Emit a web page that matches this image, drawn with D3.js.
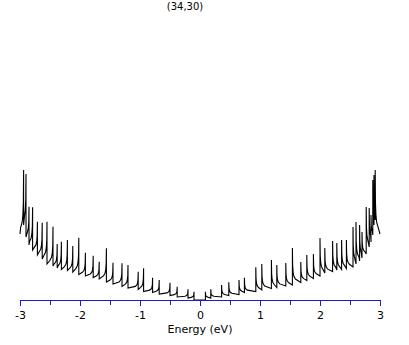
<!DOCTYPE html>
<html>
<head>
<meta charset="utf-8">
<script src="https://cdn.jsdelivr.net/npm/d3@7"></script>
<style>
  body { margin: 0; background: #fff; }
  svg { display: block; }
</style>
</head>
<body>
<svg></svg>
<script>
let title = '(34,30)'
let xLabel = 'Energy (eV)'
let majorTicks = [-3, -2, -1, 0, 1, 2, 3]
let minorTicks = [-2.5, -1.5, -0.5, 0.5, 1.5, 2.5]

// van Hove singularities, |E| in eV, E > 0 side
let vhsPos = [0.09, 0.18, 0.36, 0.48, 0.65, 0.74, 0.93, 1.03, 1.19, 1.28, 1.43, 1.54, 1.68, 1.78, 1.89, 2.00,
  2.08, 2.21, 2.28, 2.36, 2.44, 2.55, 2.60, 2.66, 2.70, 2.77, 2.82, 2.85, 2.88, 2.90, 2.92]
let peakPos = [0.83, 1.07, 1.5, 1.77, 2.0, 2.23, 3.27, 3.6, 4.0, 3.5, 3.7, 5.2, 3.8, 4.5, 4.6, 6.2,
  5.2, 5.9, 5.7, 6.0, 6.0, 7.3, 7.8, 7.5, 6.8, 9.3, 9.2, 8.5, 12.0, 12.5, 13.0]
// DOS just before the next singularity (last = value at 3 eV)
let basePos = [0.2, 0.3, 0.45, 0.55, 0.75, 0.85, 1.0, 1.15, 1.25, 1.4, 1.5, 1.75, 1.95, 2.15, 2.4, 2.7,
  2.85, 3.0, 3.05, 3.15, 3.3, 3.6, 3.9, 4.2, 4.6, 5.3, 5.8, 6.5, 7.5, 8.0, 6.6]

// E < 0 side
let vhsNeg = [0.10, 0.20, 0.38, 0.50, 0.68, 0.79, 0.94, 1.03, 1.20, 1.30, 1.45, 1.56, 1.68, 1.78, 1.91, 2.02,
  2.12, 2.21, 2.31, 2.38, 2.45, 2.55, 2.63, 2.71, 2.79, 2.85, 2.90, 2.94]
let peakNeg = [0.83, 1.07, 1.33, 1.73, 2.0, 2.23, 3.17, 2.83, 3.5, 3.67, 3.73, 5.17, 3.83, 4.43, 4.73, 6.23,
  5.4, 6.0, 5.83, 5.6, 7.33, 7.83, 7.73, 7.83, 9.27, 9.33, 12.6, 13.0]
let baseNeg = [0.2, 0.3, 0.45, 0.6, 0.75, 0.85, 1.05, 1.2, 1.35, 1.6, 1.8, 2.1, 2.25, 2.4, 2.55, 2.8,
  2.95, 3.05, 3.2, 3.4, 3.6, 4.1, 4.5, 5.0, 5.5, 6.3, 7.5, 6.6]

let width = 409
let height = 345

let xScale
let yScale

let svg = d3.select('svg')

let drawCanvas = () => {
  svg.attr('width', width)
  svg.attr('height', height)
}

let generateScales = () => {
  xScale = d3.scaleLinear()
    .domain([-3, 3])
    .range([20, 380])

  yScale = d3.scaleLinear()
    .domain([0, 14])
    .range([300, 160])
}

// one branch of the DOS, from E = 0 outwards (|E|)
let tailStep = [0.004, 0.012, 0.025, 0.05]
let tailFrac = [0.5, 0.3, 0.18, 0.1]

let buildSide = (vhs, peak, base) => {
  let pts = [[0, 0]]
  vhs.forEach((e, i) => {
    let prev = i === 0 ? 0 : base[i - 1]
    let next = i < vhs.length - 1 ? vhs[i + 1] : 3
    pts.push([e, prev])
    pts.push([e, peak[i]])
    tailStep.forEach((d, k) => {
      if (e + d < next - 0.003) {
        pts.push([e + d, base[i] + (peak[i] - base[i]) * tailFrac[k]])
      }
    })
    pts.push([next, base[i]])
  })
  return pts
}

let drawLine = () => {
  let right = buildSide(vhsPos, peakPos, basePos)
  let left = buildSide(vhsNeg, peakNeg, baseNeg)
    .map((p) => [-p[0], p[1]])
    .reverse()
  let points = left.concat(right.slice(1))

  let line = d3.line()
    .x((p) => xScale(p[0]))
    .y((p) => yScale(p[1]))

  svg.append('path')
    .datum(points)
    .attr('d', line)
    .attr('fill', 'none')
    .attr('stroke', '#000')
    .attr('stroke-width', 1.1)
}

let generateAxes = () => {
  let axisColor = '#1c1ccc'

  let xAxis = d3.axisBottom(xScale)
    .tickValues(majorTicks)
    .tickFormat(d3.format('d'))
    .tickSize(6)
    .tickSizeOuter(0)
    .tickPadding(5)

  let minorAxis = d3.axisBottom(xScale)
    .tickValues(minorTicks)
    .tickFormat('')
    .tickSize(5)
    .tickSizeOuter(0)

  let gx = svg.append('g')
    .attr('id', 'x-axis')
    .attr('transform', 'translate(0,300)')
    .call(xAxis)

  svg.append('g')
    .attr('transform', 'translate(0,300)')
    .call(minorAxis)
    .select('.domain').remove()

  svg.selectAll('.domain, .tick line').attr('stroke', axisColor)
  gx.selectAll('text')
    .attr('fill', '#000')
    .style('font-family', 'DejaVu Sans, sans-serif')
    .style('font-size', '11px')
    .text((d) => d < 0 ? '-' + Math.abs(d) : d)

  svg.append('text')
    .attr('x', 200)
    .attr('y', 333)
    .attr('text-anchor', 'middle')
    .style('font-family', 'DejaVu Sans, sans-serif')
    .style('font-size', '11px')
    .text(xLabel)

  svg.append('text')
    .attr('x', 185)
    .attr('y', 10)
    .attr('text-anchor', 'middle')
    .style('font-family', 'DejaVu Sans, sans-serif')
    .style('font-size', '10px')
    .text(title)
}

drawCanvas()
generateScales()
drawLine()
generateAxes()
</script>
</body>
</html>
